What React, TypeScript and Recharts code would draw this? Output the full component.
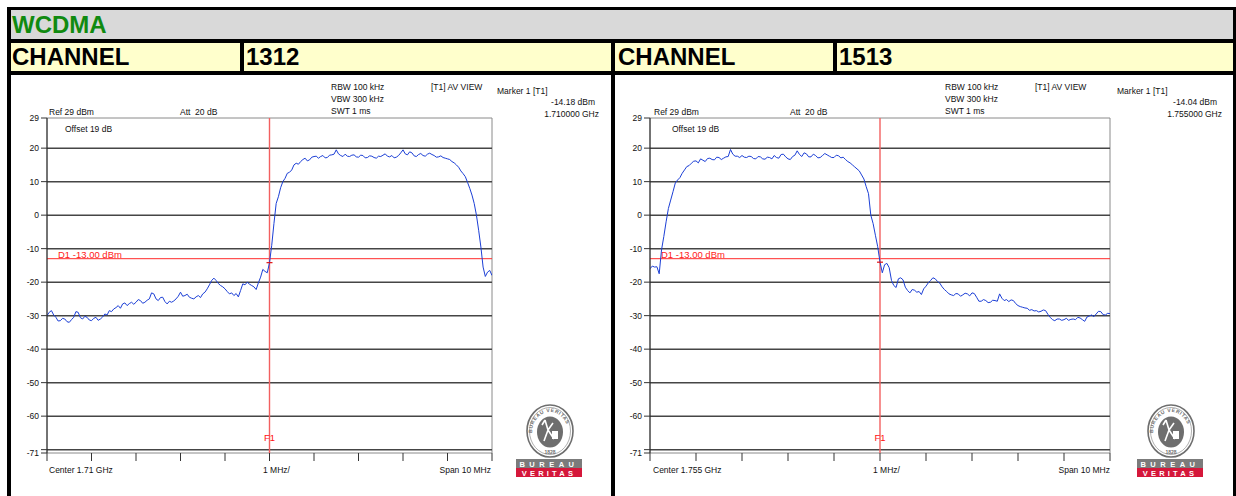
import { Line, LineChart, ReferenceArea, ReferenceDot, ReferenceLine, XAxis, YAxis } from "recharts"

const FONT = '"Liberation Sans", Arial, sans-serif'

// sweep points every 0.05 MHz across the 10 MHz span (0 = left edge of screen)
const SWEEP_STEP_MHZ = 0.05

const ch1312Levels = [
  -30, -29, -28.5, -29.8, -30.5, -31.6, -31.5, -30.8, -31, -31.8,
  -32, -31.2, -30.5, -28.8, -29, -30.6, -31, -30.2, -30.5, -31.3,
  -31.5, -30.8, -30.5, -31.4, -31, -30.4, -29.5, -29.8, -28.5, -28.8,
  -28, -27.6, -27, -27.8, -26.5, -26.2, -27, -26.4, -26, -26.6,
  -26, -25.2, -25.5, -26.3, -26, -25.4, -25, -23.2, -23.5, -25,
  -25.5, -24.6, -24.5, -25.8, -26.5, -25.7, -26, -25.6, -25, -24.2,
  -23, -24.2, -24, -23.6, -24.5, -24.8, -25, -24.4, -24, -24.6,
  -23.5, -23, -22, -20.8, -19.5, -18.8, -19.5, -20.4, -21, -21.4,
  -22, -22.8, -23.5, -23.2, -24, -23.4, -24.4, -22.5, -20.5, -20.8,
  -20, -20.6, -21, -21.4, -22.2, -20.2, -18.5, -16.2, -16.8, -17.2,
  -14.2, -9, -2.5, 3.5, 5.5, 8.2, 10, 11, 12.5, 12.8,
  13.5, 15, 15.5, 15.2, 16, 16.6, 17, 16.2, 16.5, 17.3,
  17.5, 17.6, 17, 17.5, 17.8, 17.1, 17.2, 17.9, 18, 18.2,
  19.5, 18.3, 17.8, 17.5, 18.2, 17.6, 17.5, 17.9, 18, 17.4,
  17.3, 17.9, 17.8, 17.1, 17.2, 17.7, 17.6, 17.2, 17, 17.6,
  17.5, 17.9, 18.3, 17.6, 17.4, 17.8, 17.1, 17.3, 17.8, 18.6,
  19.5, 18.3, 18, 18.9, 18.6, 17.7, 17.5, 18.1, 18.4, 17.8,
  17.6, 18.2, 18.5, 18.1, 17.8, 17.3, 17.4, 17.7, 17.2, 17,
  16.8, 16.6, 16, 15.6, 15, 14.3, 13.2, 12.4, 11.5, 9.8,
  8, 6, 3.5, 0, -4.5, -9.5, -15.5, -18.3, -17, -16.5,
  -18,
]

const ch1513Levels = [
  -16, -15.2, -15.5, -15.4, -17.5, -10.4, -6.4, -2, 2, 4.5,
  7, 9.6, 10.5, 11.2, 12.5, 13.5, 14.5, 14.8, 15.5, 16.1,
  16.2, 15.6, 16.8, 16.4, 16, 16.9, 17, 16.6, 16.5, 17.3,
  17.2, 16.6, 17, 17.4, 17.5, 19.6, 18.2, 17.6, 17.6, 17.2,
  17.8, 17.3, 17.2, 17.6, 17.5, 16.9, 16.8, 17.5, 17.4, 16.8,
  16.7, 17.3, 17.2, 16.8, 17.8, 17.2, 17, 18.1, 18.2, 17.4,
  16.8, 16.6, 17.5, 17.9, 19.2, 18.1, 17.5, 18.6, 18.3, 17.4,
  17.4, 18.2, 17.8, 17.1, 17.2, 17.8, 18.4, 18, 17.6, 17.2,
  17.2, 17.9, 17.7, 17.1, 17.3, 16.6, 16, 15.6, 15, 14.4,
  13.8, 13.2, 12, 10.8, 8.5, 6.4, 0, -2.5, -6, -9.4,
  -14, -17.2, -14.8, -14.4, -15.7, -19.5, -21, -21.6, -19, -18.7,
  -19.3, -21.5, -22.5, -23.2, -22.2, -22.4, -23, -22.8, -23.7, -22,
  -21.2, -20.2, -19.5, -18.7, -19, -19.8, -20.3, -21.4, -22.2, -22.8,
  -23.5, -23.8, -24, -23.4, -23.5, -24.2, -23.8, -23.3, -23.5, -24.1,
  -23.2, -23.4, -24.5, -25.7, -25.7, -25.2, -25.5, -26.1, -26, -25.4,
  -25.5, -25.7, -23.5, -24.8, -25.5, -25.2, -25.8, -25.3, -25.5, -26.4,
  -27, -27.3, -27.5, -27.7, -27.8, -28.4, -28.2, -28.6, -28.5, -28.9,
  -28.7, -28.3, -28.5, -29.6, -30.5, -31.2, -31.5, -31, -31, -31.4,
  -31.2, -30.8, -31.4, -31.1, -31, -31.2, -30.5, -30.7, -31.2, -31.7,
  -30.4, -30.1, -29.8, -30.3, -29.5, -28.7, -28.8, -29.7, -29.8, -29.3,
  -29.4,
]

const yTicks = [29, 20, 10, 0, -10, -20, -30, -40, -50, -60, -70, -71]
const gridLevels = [20, 10, 0, -10, -20, -30, -40, -50, -60, -70]
const xTicks = [0, 1, 2, 3, 4, 5, 6, 7, 8, 9, 10]
const LIMIT_DBM = -13
const MARKER_MHZ = 5

const PLOT_TOP = 118
const PLOT_HEIGHT = 335
const Y_AXIS_WIDTH = 36
const TOP_PAD = 10
const X_AXIS_HEIGHT = 14

type Note = { text: string; x: number; y: number; right?: boolean }

const leftNotes: Note[] = [
  { text: "RBW 100 kHz", x: 331, y: 87 },
  { text: "VBW 300 kHz", x: 331, y: 99 },
  { text: "SWT 1 ms", x: 331, y: 111 },
  { text: "[T1] AV VIEW", x: 431, y: 87 },
  { text: "Marker 1 [T1]", x: 497, y: 91 },
  { text: "-14.18 dBm", x: 595, y: 102, right: true },
  { text: "1.710000 GHz", x: 599, y: 114, right: true },
  { text: "Ref 29 dBm", x: 49, y: 112 },
  { text: "Att  20 dB", x: 180, y: 112 },
  { text: "Offset 19 dB", x: 65, y: 129 },
  { text: "Center 1.71 GHz", x: 49, y: 470 },
  { text: "1 MHz/", x: 263, y: 470 },
  { text: "Span 10 MHz", x: 491, y: 470, right: true },
]

const rightNotes: Note[] = [
  { text: "RBW 100 kHz", x: 945, y: 87 },
  { text: "VBW 300 kHz", x: 945, y: 99 },
  { text: "SWT 1 ms", x: 945, y: 111 },
  { text: "[T1] AV VIEW", x: 1035, y: 87 },
  { text: "Marker 1 [T1]", x: 1117, y: 91 },
  { text: "-14.04 dBm", x: 1217, y: 102, right: true },
  { text: "1.755000 GHz", x: 1222, y: 114, right: true },
  { text: "Ref 29 dBm", x: 654, y: 112 },
  { text: "Att  20 dB", x: 790, y: 112 },
  { text: "Offset 19 dB", x: 672, y: 129 },
  { text: "Center 1.755 GHz", x: 653, y: 470 },
  { text: "1 MHz/", x: 873, y: 470 },
  { text: "Span 10 MHz", x: 1110, y: 470, right: true },
]

function DbTick(props: any) {
  const { x, y, payload } = props
  if (payload.value === -70) return null
  return (
    <text x={x} y={y} dy={3} textAnchor="end" fontSize={8.5} fontFamily={FONT} fill="#111">
      {payload.value}
    </text>
  )
}

function LimitLabel(props: any) {
  const vb = props.viewBox ?? {}
  return (
    <text x={vb.x + 11} y={vb.y - 0.5} fontSize={9.5} fontFamily={FONT} fill="#ff2020">
      D1 -13.00 dBm
    </text>
  )
}

function SpectrumPlot({ levels, markerDbm, plotLeft, plotWidth }: {
  levels: number[]
  markerDbm: number
  plotLeft: number
  plotWidth: number
}) {
  const data = levels.map((level, i) => ({ mhz: Math.round(i * SWEEP_STEP_MHZ * 100) / 100, level }))

  return (
    <div style={{ position: "absolute", left: plotLeft - Y_AXIS_WIDTH, top: PLOT_TOP - TOP_PAD }}>
      <LineChart
        width={Y_AXIS_WIDTH + plotWidth + 4}
        height={TOP_PAD + PLOT_HEIGHT + X_AXIS_HEIGHT}
        data={data}
        margin={{ top: TOP_PAD, right: 4, bottom: 0, left: 0 }}
      >
        <XAxis
          type="number"
          dataKey="mhz"
          domain={[0, 10]}
          ticks={xTicks}
          interval={0}
          tick={() => <g />}
          tickSize={8}
          height={X_AXIS_HEIGHT}
          axisLine={false}
          tickLine={{ stroke: "#333" }}
          allowDataOverflow
        />
        <YAxis
          type="number"
          domain={[-71, 29]}
          ticks={yTicks}
          interval={0}
          width={Y_AXIS_WIDTH}
          tickSize={6}
          tickMargin={2}
          tick={<DbTick />}
          axisLine={{ stroke: "#222" }}
          tickLine={{ stroke: "#333" }}
          allowDataOverflow
        />
        <ReferenceArea x1={0} x2={10} y1={-71} y2={29} fill="none" fillOpacity={0} stroke="#8a8a8a" />
        {gridLevels.map((level) => (
          <ReferenceLine key={level} y={level} stroke="#454545" strokeWidth={1.5} />
        ))}
        <ReferenceLine y={LIMIT_DBM} stroke="#ff2a2a" strokeWidth={1} label={<LimitLabel />} />
        <ReferenceLine
          x={MARKER_MHZ}
          stroke="#f26060"
          strokeWidth={1.4}
          label={{ value: "F1", position: "insideBottom", offset: 12, fill: "#ff1010", fontSize: 9.5, fontFamily: FONT }}
        />
        <Line
          type="linear"
          dataKey="level"
          stroke="#1c3fd6"
          strokeWidth={1}
          dot={false}
          isAnimationActive={false}
        />
        <ReferenceDot
          x={MARKER_MHZ}
          y={markerDbm}
          shape={(p: any) => (
            <line x1={p.cx - 3} x2={p.cx + 3} y1={p.cy} y2={p.cy} stroke="#e01010" strokeWidth={1.2} />
          )}
        />
      </LineChart>
    </div>
  )
}

function Notes({ notes }: { notes: Note[] }) {
  return (
    <>
      {notes.map((n) => (
        <div
          key={n.text + n.x}
          style={{
            position: "absolute",
            top: n.y - 6,
            height: 12,
            lineHeight: "12px",
            left: n.right ? n.x - 200 : n.x,
            width: n.right ? 200 : undefined,
            textAlign: n.right ? "right" : "left",
            fontSize: 8.5,
            fontFamily: FONT,
            color: "#111",
            whiteSpace: "pre",
          }}
        >
          {n.text}
        </div>
      ))}
    </>
  )
}

function VeritasLogo({ left }: { left: number }) {
  return (
    <svg style={{ position: "absolute", left, top: 403 }} width={68} height={76}>
      <defs>
        <path id={`arc${left}`} d="M 17 30 A 18 21 0 0 1 53 30" />
      </defs>
      <ellipse cx={35} cy={28} rx={23} ry={26} fill="#fff" stroke="#6e6e6e" strokeWidth={1.6} />
      <ellipse cx={35} cy={28} rx={20.5} ry={23.5} fill="none" stroke="#9a9a9a" strokeWidth={0.8} />
      <text fontSize={5} fontFamily={FONT} fontWeight="bold" fill="#6e6e6e" letterSpacing={0.6}>
        <textPath href={`#arc${left}`}>BUREAU VERITAS</textPath>
      </text>
      <ellipse cx={35} cy={29} rx={13} ry={15.5} fill="#6e6e6e" />
      <path d="M 30 17 L 33 27 L 29 38 M 33 27 L 38 20 M 33 27 L 39 36 M 27 22 L 30 17" stroke="#fff" strokeWidth={1.6} fill="none" />
      <rect x={37} y={28} width={6} height={8} fill="#fff" />
      <text x={35} y={51} textAnchor="middle" fontSize={5} fontFamily={FONT} fontWeight="bold" fill="#6e6e6e">
        1828
      </text>
      <rect x={1} y={56} width={66} height={9} fill="#7b7b7b" />
      <text x={34} y={63.5} textAnchor="middle" fontSize={7.5} fontFamily={FONT} fontWeight="bold" fill="#fff" letterSpacing={4.5}>
        BUREAU
      </text>
      <rect x={1} y={65} width={66} height={9} fill="#d5173a" />
      <text x={34} y={72.5} textAnchor="middle" fontSize={7.5} fontFamily={FONT} fontWeight="bold" fill="#fff" letterSpacing={3.2}>
        VERITAS
      </text>
    </svg>
  )
}

const cell = (left: number, top: number, width: number, height: number, background: string) => ({
  position: "absolute" as const,
  left,
  top,
  width,
  height,
  background,
})

const headText = {
  position: "absolute" as const,
  fontFamily: FONT,
  fontWeight: "bold" as const,
  fontSize: 24,
  lineHeight: "28px",
}

export default function App() {
  return (
    <div style={{ position: "absolute", left: 0, top: 0, width: 1236, height: 496, overflow: "hidden", background: "#fff" }}>
      <div style={cell(7, 7, 1229, 489, "#000")} />
      <div style={cell(11, 10, 1222, 29, "#d9d9d9")} />
      <div style={cell(11, 43, 229, 28, "#ffffcc")} />
      <div style={cell(244, 43, 367, 28, "#ffffcc")} />
      <div style={cell(615, 43, 218, 28, "#ffffcc")} />
      <div style={cell(837, 43, 396, 28, "#ffffcc")} />
      <div style={cell(11, 75, 600, 421, "#fff")} />
      <div style={cell(615, 75, 618, 421, "#fff")} />

      <div style={{ ...headText, left: 12, top: 11, color: "#108a10" }}>WCDMA</div>
      <div style={{ ...headText, left: 12, top: 43, color: "#000" }}>CHANNEL</div>
      <div style={{ ...headText, left: 246, top: 43, color: "#000" }}>1312</div>
      <div style={{ ...headText, left: 618, top: 43, color: "#000" }}>CHANNEL</div>
      <div style={{ ...headText, left: 839, top: 43, color: "#000" }}>1513</div>

      <SpectrumPlot levels={ch1312Levels} markerDbm={-14.18} plotLeft={47} plotWidth={445} />
      <SpectrumPlot levels={ch1513Levels} markerDbm={-14.04} plotLeft={650} plotWidth={460} />

      <Notes notes={leftNotes} />
      <Notes notes={rightNotes} />

      <VeritasLogo left={515} />
      <VeritasLogo left={1136} />
    </div>
  )
}
